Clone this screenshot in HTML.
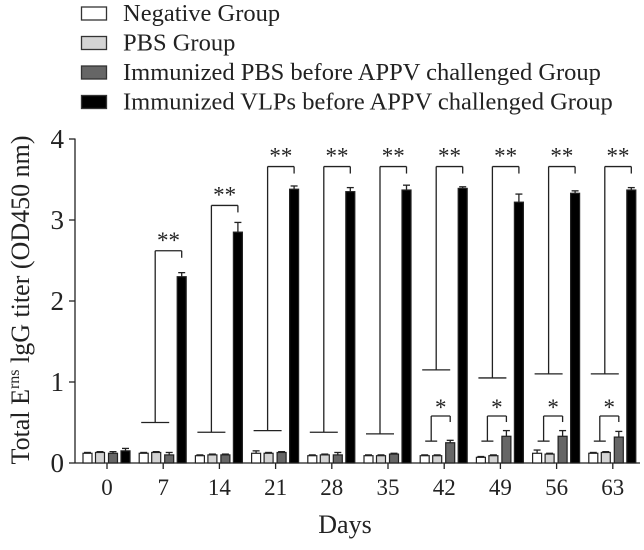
<!DOCTYPE html>
<html><head><meta charset="utf-8"><style>
body{margin:0;background:#fff;}
svg{display:block;font-family:"Liberation Serif",serif;}
</style></head><body>
<svg id="chart" width="644" height="550" viewBox="0 0 644 550"></svg>
<script>
const days=["0","7","14","21","28","35","42","49","56","63"];
const negVals=[0.12,0.12,0.09,0.12,0.09,0.09,0.09,0.07,0.12,0.12];
const pbsVals=[0.13,0.13,0.10,0.12,0.10,0.09,0.09,0.09,0.11,0.13];
const immPbsVals=[0.12,0.10,0.10,0.13,0.10,0.11,0.25,0.33,0.33,0.32];
const vlpVals=[0.15,2.30,2.85,3.38,3.35,3.37,3.39,3.22,3.33,3.37];
const negErr=[0.01,0.01,0.01,0.03,0.01,0.01,0.01,0.01,0.04,0.01];
const pbsErr=[0.01,0.01,0.01,0.01,0.01,0.01,0.01,0.01,0.01,0.01];
const immPbsErr=[0.02,0.03,0.01,0.01,0.03,0.01,0.03,0.07,0.07,0.07];
const vlpErr=[0.03,0.05,0.12,0.04,0.05,0.06,0.02,0.10,0.03,0.03];
const yTicks=[0,1,2,3,4];
const sigLow=[null,0.50,0.38,0.40,0.38,0.36,1.15,1.05,1.10,1.10];
const sigHigh=[null,2.62,3.18,3.66,3.66,3.66,3.66,3.66,3.66,3.66];
const starLow=[null,null,null,null,null,null,0.27,0.27,0.27,0.27];
const starHigh=[null,null,null,null,null,null,0.58,0.58,0.58,0.58];
const seriesNames=["Negative Group","PBS Group","Immunized PBS before APPV challenged  Group","Immunized VLPs before APPV challenged Group"];
const fills=["#ffffff","#d4d4d4","#666666","#000000"];

const svg=document.getElementById('chart');
const NS="http://www.w3.org/2000/svg";
const y0=463,pxPerUnit=81;
const Y=v=>y0-v*pxPerUnit;
const X=i=>107+i*56.2;
function mk(tag,attrs,parent){const e=document.createElementNS(NS,tag);for(const k in attrs)e.setAttribute(k,attrs[k]);(parent||svg).appendChild(e);return e;}
const stroke={stroke:"#222","stroke-width":1.3,fill:"none"};

// legend
seriesNames.forEach((n,i)=>{
  const g=mk('g',{});
  
  
  const cy=13+i*29.5;
  mk('rect',{x:81.5,y:cy-6,width:25,height:13,fill:fills[i],stroke:"#333","stroke-width":1.3},g);
  const t=mk('text',{x:123,y:cy+8,"font-size":24.5,fill:"#222","xml:space":"preserve"},g);
  t.textContent=n;
});

// axes
const ax=mk('g',{});


mk('line',{x1:75,y1:Y(4)-0.5,x2:75,y2:y0,...stroke},ax);
mk('line',{x1:75,y1:y0,x2:640,y2:y0,...stroke},ax);
yTicks.forEach(v=>{
  mk('line',{x1:69,y1:Y(v),x2:75,y2:Y(v),...stroke},ax);
  const t=mk('text',{x:64,y:Y(v)+9,"font-size":27,"text-anchor":"end",fill:"#222"},ax);
  
  
  t.textContent=v;
});
days.forEach((d,i)=>{
  mk('line',{x1:X(i),y1:y0,x2:X(i),y2:y0+6,...stroke},ax);
  const t=mk('text',{x:X(i),y:y0+32,"font-size":23,"text-anchor":"middle",fill:"#222"},ax);
  
  
  t.textContent=d;
});
const xt=mk('text',{x:345,y:533,"font-size":26,"text-anchor":"middle",fill:"#222"});


xt.textContent="Days";
const yt=mk('text',{x:0,y:0,"font-size":26,"text-anchor":"middle",fill:"#222",transform:"translate(29,300) rotate(-90)"});


yt.innerHTML='Total E<tspan dy="-10" font-size="16">rns</tspan><tspan dy="10"> lgG titer (OD450 nm)</tspan>';

// bars
const all=[negVals,pbsVals,immPbsVals,vlpVals];
const errs=[negErr,pbsErr,immPbsErr,vlpErr];
const offs=[-19,-6.5,6.5,19];
all.forEach((vals,s)=>{
  vals.forEach((v,i)=>{
    const cx=X(i)+offs[s]-0.5;
    const e=errs[s][i];
    mk('line',{x1:cx,y1:Y(v),x2:cx,y2:Y(v+e),...stroke});
    mk('line',{x1:cx-3.5,y1:Y(v+e),x2:cx+3.5,y2:Y(v+e),...stroke});
    const r=mk('rect',{x:cx-4.5,y:Y(v),width:9,height:y0-Y(v),fill:fills[s],stroke:"#222","stroke-width":1.2});
    
    
  });
});

// significance brackets
days.forEach((d,i)=>{
  if(sigLow[i]!=null){
    const g=mk('g',{});
    
    
    const vx=X(i)-8, ex=X(i)+18.5;
    mk('line',{x1:vx-14,y1:Y(sigLow[i]),x2:vx+14,y2:Y(sigLow[i]),...stroke},g);
    mk('line',{x1:vx,y1:Y(sigLow[i]),x2:vx,y2:Y(sigHigh[i]),...stroke},g);
    mk('line',{x1:vx,y1:Y(sigHigh[i]),x2:ex,y2:Y(sigHigh[i]),...stroke},g);
    mk('line',{x1:ex,y1:Y(sigHigh[i]),x2:ex,y2:Y(sigHigh[i])+7,...stroke},g);
    const t=mk('text',{x:(vx+ex)/2,y:Y(sigHigh[i])-3,"font-size":23,"text-anchor":"middle",fill:"#222"},g);
    t.textContent="**";
  }
  if(starLow[i]!=null){
    const g=mk('g',{});
    
    
    const vx=X(i)-13, ex=X(i)+6;
    mk('line',{x1:vx-6,y1:Y(starLow[i]),x2:vx+6,y2:Y(starLow[i]),...stroke},g);
    mk('line',{x1:vx,y1:Y(starLow[i]),x2:vx,y2:Y(starHigh[i]),...stroke},g);
    mk('line',{x1:vx,y1:Y(starHigh[i]),x2:ex,y2:Y(starHigh[i]),...stroke},g);
    mk('line',{x1:ex,y1:Y(starHigh[i]),x2:ex,y2:Y(starHigh[i])+6,...stroke},g);
    const t=mk('text',{x:(vx+ex)/2,y:Y(starHigh[i])-1,"font-size":23,"text-anchor":"middle",fill:"#222"},g);
    t.textContent="*";
  }
});
</script>
</body></html>
